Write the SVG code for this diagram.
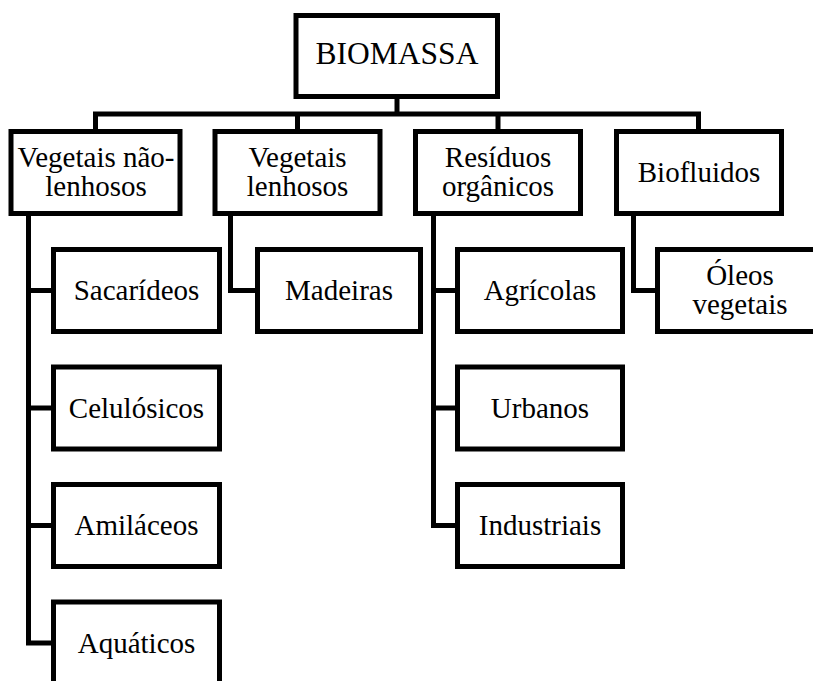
<svg xmlns="http://www.w3.org/2000/svg" width="813" height="681" viewBox="0 0 813 681">
<style>
.box{fill:#fff;stroke:#000;stroke-width:5;stroke-linejoin:miter}
.con{fill:none;stroke:#000;stroke-width:5;stroke-linejoin:miter;stroke-linecap:butt}
text{font-family:"Liberation Serif","Times New Roman",serif;font-size:29px;fill:#000;text-anchor:middle}
.big{font-size:31.5px}
</style>
<rect width="813" height="681" fill="#fff"/>
<g id="connectors">
<path class="con" d="M397,99 V114"/>
<path class="con" d="M95.5,131.5 V114 H698.5 V131.5"/>
<path class="con" d="M297.5,114 V131.5 M498,114 V131.5"/>
<path class="con" d="M28.5,213.5 V643 H53.5 M28.5,290.5 H53.5 M28.5,408 H53.5 M28.5,525.5 H53.5"/>
<path class="con" d="M230.5,213.5 V290.5 H257.5"/>
<path class="con" d="M433.5,213.5 V525.5 H457.5 M433.5,290.5 H457.5 M433.5,408 H457.5"/>
<path class="con" d="M633.5,213.5 V290.5 H657.5"/>
</g>
<g id="biomassa"><rect class="box" x="296" y="15.5" width="201.5" height="81"/><text class="big" x="397" y="64">BIOMASSA</text></g>
<g id="nao-lenhosos"><rect class="box" x="11" y="131.5" width="169" height="82"/><text x="96" y="166.5">Vegetais não-</text><text x="96" y="196">lenhosos</text></g>
<g id="lenhosos"><rect class="box" x="215" y="131.5" width="165" height="82"/><text x="297.5" y="166.5">Vegetais</text><text x="297.5" y="196">lenhosos</text></g>
<g id="residuos"><rect class="box" x="415.5" y="131.5" width="165" height="82"/><text x="498" y="166.5">Resíduos</text><text x="498" y="196">orgânicos</text></g>
<g id="biofluidos"><rect class="box" x="616.5" y="131.5" width="165" height="82"/><text x="699" y="182">Biofluidos</text></g>
<g id="sacarideos"><rect class="box" x="53.5" y="249.5" width="166" height="82"/><text x="136.5" y="300">Sacarídeos</text></g>
<g id="celulosicos"><rect class="box" x="53.5" y="367" width="166" height="82"/><text x="136.5" y="417.5">Celulósicos</text></g>
<g id="amilaceos"><rect class="box" x="53.5" y="484.5" width="166" height="82"/><text x="136.5" y="535">Amiláceos</text></g>
<g id="aquaticos"><rect class="box" x="53.5" y="602" width="166" height="82"/><text x="136.5" y="652.5">Aquáticos</text></g>
<g id="madeiras"><rect class="box" x="257.5" y="249.5" width="163" height="82"/><text x="339" y="300">Madeiras</text></g>
<g id="agricolas"><rect class="box" x="457.5" y="249.5" width="165" height="82"/><text x="540" y="300">Agrícolas</text></g>
<g id="urbanos"><rect class="box" x="457.5" y="367" width="165" height="82"/><text x="540" y="417.5">Urbanos</text></g>
<g id="industriais"><rect class="box" x="457.5" y="484.5" width="165" height="82"/><text x="540" y="535">Industriais</text></g>
<g id="oleos"><rect class="box" x="657.5" y="249.5" width="165" height="82"/><text x="740" y="285">Óleos</text><text x="740" y="314">vegetais</text></g>
</svg>
